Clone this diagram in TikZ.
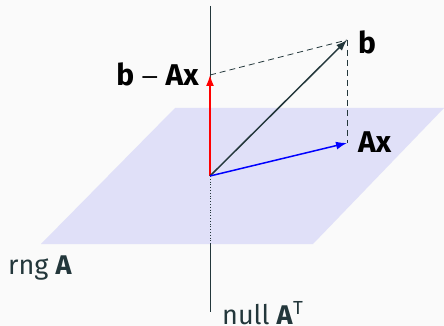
\documentclass[tikz,border=0pt]{standalone}
\usepackage{fontspec}
\setmainfont{Fira Sans}
\usetikzlibrary{arrows.meta}
\definecolor{bgc}{HTML}{FAFAFA}
\definecolor{planec}{HTML}{E0E0F8}
\definecolor{teal}{HTML}{23373B}
\tikzset{
  vec/.style={line width=1.5pt,-{Latex[length=11pt,width=8pt]}},
  lbl/.style={inner sep=0pt,font=\fontsize{30}{34}\selectfont\bfseries},
  plainlbl/.style={inner sep=0pt,text=teal,font=\fontsize{27}{32}\selectfont},
  guide/.style={teal,line width=0.8pt,dash pattern=on 6pt off 4pt}
}
\begin{document}
\begin{tikzpicture}[x=1pt,y=-1pt]
\fill[bgc] (0,0) rectangle (444,326);
\useasboundingbox (0,0) rectangle (444,326);
\fill[planec] (175,108) -- (444,108) -- (313,244) -- (41,244) -- cycle;
\coordinate (top) at (210,6);
\coordinate (bot) at (210,312);
\coordinate (O) at (210,176);
\coordinate (P1) at (210,244);
\coordinate (P0) at (210,108);
\coordinate (R) at (210,75);
\coordinate (B) at (347,40);
\coordinate (AX) at (347,143);
\draw[teal,line width=0.8pt] (top) -- (P0);
\draw[teal,line width=0.8pt,dotted] (O) -- (P1);
\draw[teal,line width=0.8pt] (P1) -- (bot);
\draw[guide] (R) -- (B);
\draw[guide] (B) -- (AX);
\draw[vec,red] (O) -- (R);
\draw[vec,teal] (O) -- (B);
\draw[vec,blue] (O) -- (AX);
\node[lbl,anchor=west] (lb) at (358,42) {b};
\node[lbl,anchor=west] (lax) at (358,142) {Ax};
\node[lbl,anchor=east] (lbax) at (199,74) {b\hspace{0.2em}\scalebox{1.3}[0.8]{\mdseries −}\hspace{0.2em}Ax};
\node[plainlbl,anchor=west] (lrng) at (8,268) {rng \textbf{A}};
\node[plainlbl,anchor=base west] (lnull) at (222,324) {null \textbf{A}\textsuperscript{T}};
\end{tikzpicture}
\end{document}
